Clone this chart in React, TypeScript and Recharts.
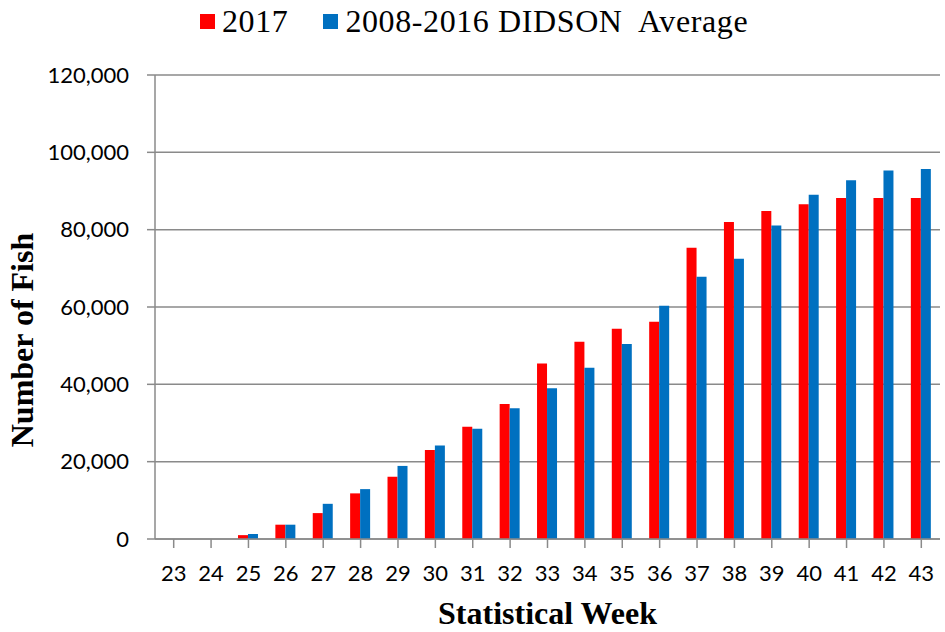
import React from "react";
import {
  BarChart,
  Bar,
  XAxis,
  YAxis,
  CartesianGrid,
  Legend,
} from "recharts";

const weeks = [23, 24, 25, 26, 27, 28, 29, 30, 31, 32, 33, 34, 35, 36, 37, 38, 39, 40, 41, 42, 43];
const fish2017 = [0, 0, 1000, 3700, 6700, 11800, 16100, 23000, 29000, 34900, 45400, 51000, 54400, 56200, 75300, 82000, 84800, 86600, 88200, 88200, 88200];
const didsonAvg = [0, 0, 1300, 3700, 9100, 12900, 18900, 24200, 28500, 33800, 39000, 44300, 50400, 60300, 67800, 72500, 81100, 89000, 92800, 95300, 95700];
const yTicks = [0, 20000, 40000, 60000, 80000, 100000, 120000];

const RED = "#FF0000";
const BLUE = "#0070C0";
const GRID = "#8a8a8a";
const SERIF = "'Liberation Serif', 'Times New Roman', serif";
const SANS = "Lato, 'Noto Sans', sans-serif";

const data = weeks.map((w, i) => ({
  week: String(w),
  y2017: fish2017[i],
  avg: didsonAvg[i],
}));

function LegendBox() {
  const item = (color: string, label: string, gap: number) => (
    <div style={{ display: "flex", alignItems: "center", marginRight: gap }}>
      <span style={{ width: 15, height: 15, background: color, marginRight: 7, display: "inline-block" }} />
      <span style={{ whiteSpace: "pre", letterSpacing: 0.6 }}>{label}</span>
    </div>
  );
  return (
    <div
      style={{
        display: "flex",
        paddingLeft: 200,
        fontFamily: SERIF,
        fontSize: 32,
        color: "#000",
        lineHeight: "34px",
        height: 34,
      }}
    >
      {item(RED, "2017", 35)}
      {item(BLUE, "2008-2016 DIDSON  Average", 0)}
    </div>
  );
}

export default function App() {
  return (
    <div style={{ position: "fixed", left: 0, top: 0, width: 945, height: 632, background: "#fff" }}>
      <BarChart
        width={945}
        height={632}
        data={data}
        margin={{ top: 41, right: 5, left: 30, bottom: 0 }}
        barCategoryGap="22%"
        barGap={0}
      >
        <CartesianGrid vertical={false} stroke={GRID} strokeWidth={1.5} />
        <XAxis
          dataKey="week"
          height={93}
          stroke={GRID}
          strokeWidth={1.5}
          tickSize={9}
          tickMargin={17}
          interval={0}
          tick={{ fontFamily: SANS, fontSize: 22, fill: "#000" }}
          label={{
            value: "Statistical Week",
            position: "insideBottom",
            offset: 8,
            style: { fontFamily: SERIF, fontSize: 32, fontWeight: "bold", fill: "#000" },
          }}
        />
        <YAxis
          width={125}
          domain={[0, 120000]}
          ticks={yTicks}
          stroke={GRID}
          strokeWidth={1.5}
          tickSize={8}
          tickMargin={18}
          tick={{ fontFamily: SANS, fontSize: 22, fill: "#000" }}
          tickFormatter={(v: number) => v.toLocaleString("en-US")}
          label={{
            value: "Number of Fish",
            angle: -90,
            position: "insideLeft",
            offset: 0,
            dy: 33,
            dx: -8,
            style: { textAnchor: "middle", fontFamily: SERIF, fontSize: 32, fontWeight: "bold", fill: "#000" },
          }}
        />
        <Legend
          verticalAlign="top"
          align="left"
          wrapperStyle={{ top: 4, left: 0, width: 945 }}
          content={() => <LegendBox />}
        />
        <Bar dataKey="y2017" name="2017" fill={RED} isAnimationActive={false} />
        <Bar dataKey="avg" name="2008-2016 DIDSON  Average" fill={BLUE} isAnimationActive={false} />
      </BarChart>
    </div>
  );
}
